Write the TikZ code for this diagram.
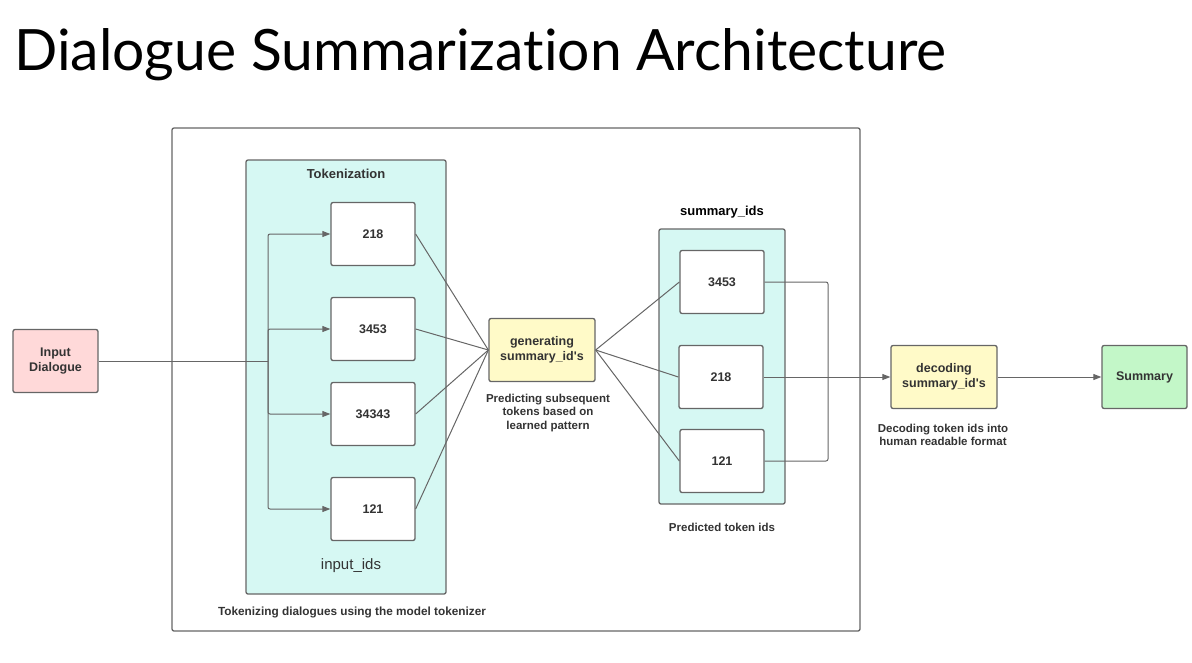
\documentclass[tikz,border=0pt]{standalone}
\usepackage{fontspec}
\setmainfont{Liberation Sans}
\newfontfamily\titlefont[Ligatures=NoCommon]{Lato}
\usetikzlibrary{arrows.meta}
\definecolor{linie}{RGB}{102,102,102}
\definecolor{tuerkis}{RGB}{214,248,243}
\definecolor{rosa}{RGB}{255,217,217}
\definecolor{gelb}{RGB}{255,250,200}
\definecolor{gruen}{RGB}{195,247,200}
\definecolor{schrift}{RGB}{51,51,51}

\begin{document}
\begin{tikzpicture}[x=1pt, y=-1pt, linie, line width=1pt,
	>={Triangle[length=8pt,width=6pt]},
	box/.style={draw, line width=1.3pt, rounded corners=2pt, fill=white, minimum width=84pt, minimum height=63pt, text=schrift, font=\fontsize{12.5}{15}\selectfont\bfseries, align=center, inner sep=1pt},
	gruppe/.style={draw, line width=1.3pt, rounded corners=2pt, fill=tuerkis},
	notiz/.style={text=schrift, font=\fontsize{11.5}{13.5}\selectfont\bfseries, align=center, inner sep=0pt}]

	\useasboundingbox (0,0) rectangle (1192,662);

	\node[black, anchor=base west, inner sep=0pt, font=\fontsize{57}{60}\titlefont] (titel) at (14,70) {Dialogue Summarization Architecture};

	% rahmen und gruppen
	\draw[line width=1.3pt, rounded corners=2pt] (172,128) rectangle (860,631);
	\draw[gruppe] (246,160) rectangle (446,594);
	\draw[gruppe] (659,229) rectangle (785,504);

	\node[notiz, font=\fontsize{13}{15}\selectfont\bfseries] (tok) at (346,174) {Tokenization};
	\node[text=schrift, font=\fontsize{15}{17}\selectfont, inner sep=0pt] (inids) at (351,566) {input\_ids};
	\node[notiz, font=\fontsize{11.8}{13}\selectfont\bfseries] (tokcap) at (352,612) {Tokenizing dialogues using the model tokenizer};
	\node[black, font=\fontsize{13}{15}\selectfont\bfseries, inner sep=0pt] (sumids) at (722,212) {summary\_ids};
	\node[notiz] (predcap) at (722,527) {Predicted token ids};

	% knoten
	\node[box, fill=rosa, minimum width=85pt] (inp) at (55.5,361) {Input\\Dialogue};

	\node[box] (t218) at (373,234) {218};
	\node[box] (t3453) at (373,329) {3453};
	\node[box] (t34343) at (373,414) {34343};
	\node[box] (t121) at (373,509) {121};

	\node[box, fill=gelb, minimum width=106pt] (gen) at (542,350) {generating\\summary\_id\textquotesingle s};
	\node[notiz] (gencap) at (548,413) {Predicting subsequent\\tokens based on\\learned pattern};

	\node[box] (s3453) at (722,282) {3453};
	\node[box] (s218) at (721,377) {218};
	\node[box] (s121) at (722,461) {121};

	\node[box, fill=gelb, minimum width=106pt] (dec) at (944,377) {decoding\\summary\_id\textquotesingle s};
	\node[notiz] (deccap) at (943,435) {Decoding token ids into\\human readable format};

	\node[box, fill=gruen, minimum width=85pt] (sum) at (1144.5,377) {Summary};

	% verbindungen
	\coordinate (split) at (268,361);
	\coordinate (bus) at (828,377);

	\draw (inp.east) -- (split);
	\foreach \t in {t218,t3453,t34343,t121}
		\draw[->, rounded corners=2pt] (split) |- (\t.west);

	\foreach \t in {t218,t3453,t34343,t121}
		\draw (\t.east) -- (gen.west);

	\foreach \s in {s3453,s218,s121}
		\draw (gen.east) -- (\s.west);

	\draw[rounded corners=2pt] (s3453.east) -| (bus);
	\draw[rounded corners=2pt] (s121.east) -| (bus);
	\draw[->] (s218.east) -- (dec.west);
	\draw[->] (dec.east) -- (sum.west);

\end{tikzpicture}
\end{document}
